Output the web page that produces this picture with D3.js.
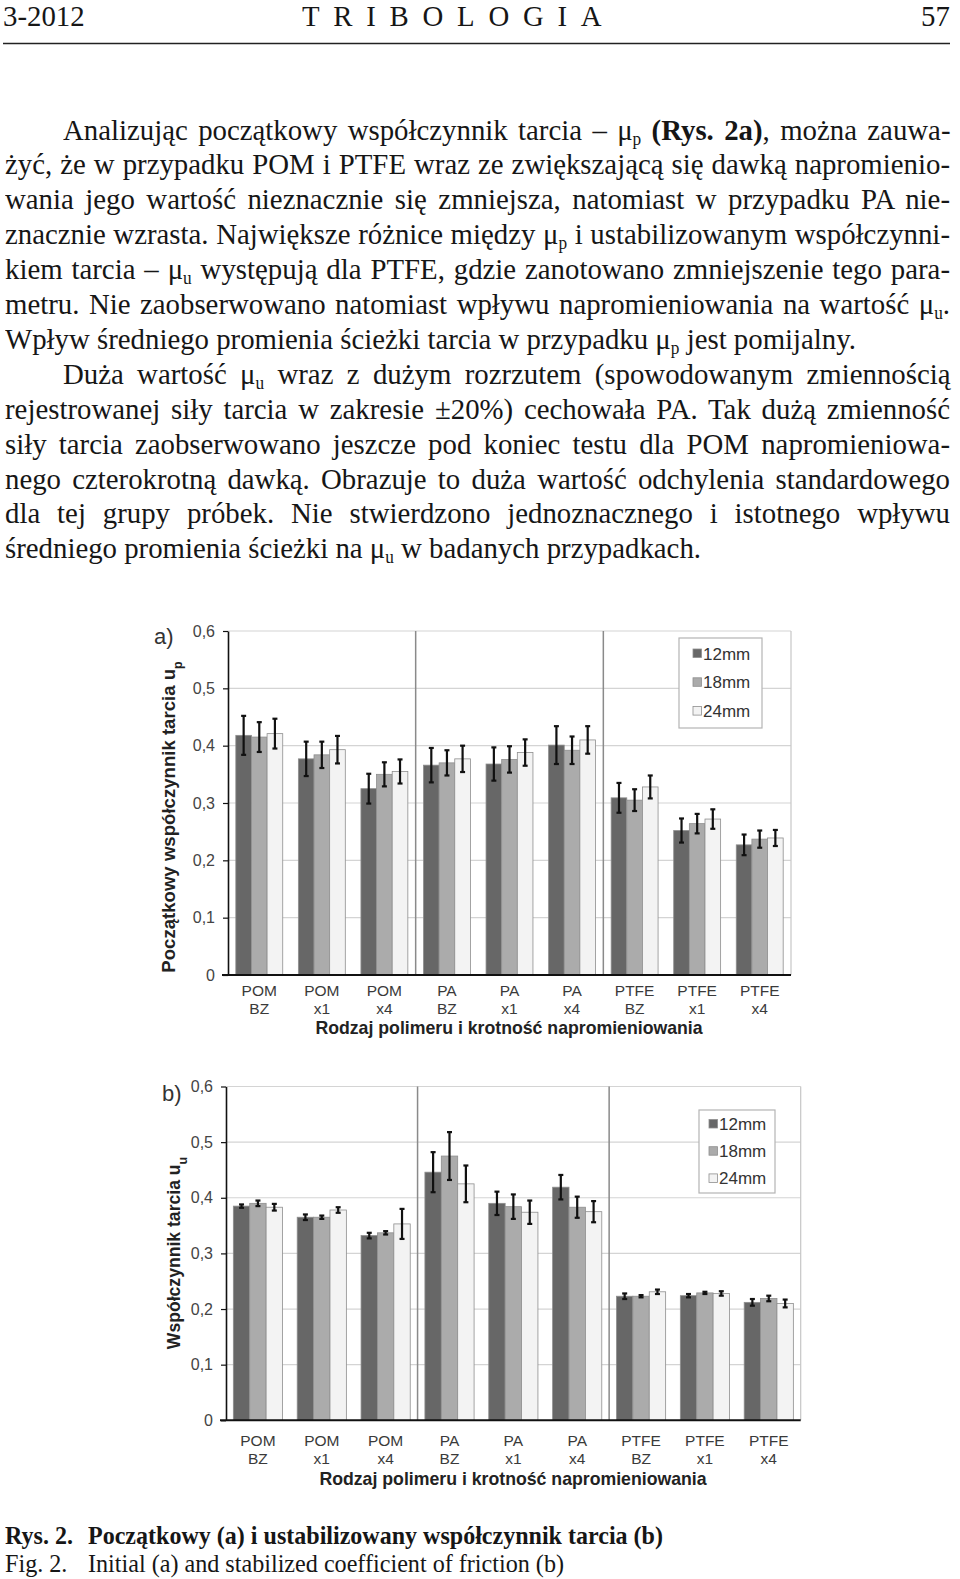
<!DOCTYPE html>
<html>
<head>
<meta charset="utf-8">
<script src="https://cdn.jsdelivr.net/npm/d3@7"></script>
<style>
  body { margin:0; background:#fff; width:960px; height:1579px; position:relative; overflow:hidden;
         font-family:"Liberation Serif","Times New Roman",serif; color:#161616; }
  #page { position:absolute; left:0; top:0; }
  .ln { position:absolute; white-space:nowrap; font-size:30px; line-height:35px; transform-origin:0 0; }
  .j { text-align:justify; text-align-last:justify; }
  sub { font-size:0.6em; vertical-align:-0.28em; line-height:0; }
  .cap { position:absolute; white-space:nowrap; font-size:25px; line-height:28px; transform-origin:0 0; }
</style>
</head>
<body>
<svg id="page" width="960" height="1579"></svg>
<script>

// ---------- data ----------
const polymers = ["POM", "POM", "POM", "PA", "PA", "PA", "PTFE", "PTFE", "PTFE"];
const doses    = ["BZ", "x1", "x4", "BZ", "x1", "x4", "BZ", "x1", "x4"];
const series   = ["12mm", "18mm", "24mm"];
const yTicks   = [0, 0.1, 0.2, 0.3, 0.4, 0.5, 0.6];

// a) initial coefficient of friction (mean, std dev)
const muP12  = [0.418, 0.377, 0.325, 0.366, 0.368, 0.401, 0.309, 0.252, 0.227];
const muP18  = [0.415, 0.384, 0.350, 0.370, 0.376, 0.392, 0.305, 0.264, 0.237];
const muP24  = [0.421, 0.393, 0.355, 0.377, 0.388, 0.410, 0.328, 0.272, 0.239];
const errP12 = [0.034, 0.030, 0.026, 0.030, 0.029, 0.033, 0.026, 0.021, 0.018];
const errP18 = [0.026, 0.023, 0.021, 0.022, 0.023, 0.024, 0.019, 0.017, 0.015];
const errP24 = [0.026, 0.024, 0.021, 0.023, 0.023, 0.024, 0.020, 0.017, 0.014];

// b) stabilized coefficient of friction (mean, std dev)
const muU12  = [0.385, 0.365, 0.332, 0.446, 0.390, 0.419, 0.223, 0.224, 0.212];
const muU18  = [0.390, 0.365, 0.337, 0.475, 0.384, 0.383, 0.223, 0.229, 0.219];
const muU24  = [0.383, 0.378, 0.353, 0.425, 0.374, 0.375, 0.231, 0.228, 0.210];
const errU12 = [0.003, 0.005, 0.005, 0.036, 0.021, 0.022, 0.005, 0.003, 0.006];
const errU18 = [0.005, 0.003, 0.003, 0.043, 0.022, 0.019, 0.002, 0.002, 0.005];
const errU24 = [0.006, 0.005, 0.027, 0.033, 0.021, 0.019, 0.004, 0.004, 0.007];

const barColors = ["#676767", "#ababab", "#f3f3f3"];
const sans = "Liberation Sans, Arial, sans-serif";

const svg = d3.select("#page");

// ---------- header rule ----------
svg.append("line").attr("x1", 3).attr("x2", 950).attr("y1", 43.5).attr("y2", 43.5)
   .attr("stroke", "#222").attr("stroke-width", 1.6);

// ---------- one bar chart ----------
function barChart(cfg) {
  const g = svg.append("g");

  const x0 = d3.scaleBand()
      .domain(d3.range(polymers.length))
      .range([cfg.left, cfg.right])
      .paddingInner(cfg.pad).paddingOuter(cfg.pad / 2);
  const x1 = d3.scaleBand().domain(series).range([0, x0.bandwidth()]);
  const y = d3.scaleLinear().domain([0, 0.6]).range([cfg.bottom, cfg.top]);

  // gridlines + frame
  g.append("g").selectAll("line").data(yTicks.slice(1)).join("line")
    .attr("x1", cfg.left).attr("x2", cfg.right)
    .attr("y1", d => y(d)).attr("y2", d => y(d))
    .attr("stroke", "#d4d4d4").attr("stroke-width", 1.2);
  g.append("line").attr("x1", cfg.right).attr("x2", cfg.right)
    .attr("y1", cfg.top).attr("y2", cfg.bottom)
    .attr("stroke", "#c6c6c6").attr("stroke-width", 1.2);

  // polymer separators
  g.append("g").selectAll("line").data([3, 6]).join("line")
    .attr("x1", i => cfg.left + i * x0.step()).attr("x2", i => cfg.left + i * x0.step())
    .attr("y1", cfg.top).attr("y2", cfg.bottom)
    .attr("stroke", "#8a8a8a").attr("stroke-width", 1.5);

  // bars
  series.forEach((s, k) => {
    g.append("g").selectAll("rect").data(cfg.values[k]).join("rect")
      .attr("x", (d, i) => x0(i) + x1(s))
      .attr("y", d => y(d))
      .attr("width", x1.bandwidth())
      .attr("height", d => y(0) - y(d))
      .attr("fill", barColors[k])
      .attr("stroke", "#8e8e8e").attr("stroke-width", 0.8);
  });

  // error bars
  series.forEach((s, k) => {
    const eg = g.append("g").attr("stroke", "#111").attr("stroke-width", 2.2);
    cfg.values[k].forEach((v, i) => {
      const cx = x0(i) + x1(s) + x1.bandwidth() / 2;
      const e = cfg.errors[k][i];
      eg.append("line").attr("x1", cx).attr("x2", cx).attr("y1", y(v - e)).attr("y2", y(v + e));
      eg.append("line").attr("x1", cx - 2.5).attr("x2", cx + 2.5).attr("y1", y(v - e)).attr("y2", y(v - e));
      eg.append("line").attr("x1", cx - 2.5).attr("x2", cx + 2.5).attr("y1", y(v + e)).attr("y2", y(v + e));
    });
  });

  // y axis
  const ya = g.append("g")
    .attr("transform", `translate(${cfg.left},0)`)
    .call(d3.axisLeft(y).tickValues(yTicks).tickSize(5).tickSizeOuter(0).tickPadding(8)
            .tickFormat(d => d === 0 ? "0" : d3.format(".1f")(d).replace(".", ",")))
    .attr("font-family", sans).attr("font-size", 16);
  ya.select(".domain").attr("stroke", "#111").attr("stroke-width", 1.6);
  ya.selectAll(".tick line").attr("stroke", "#111").attr("stroke-width", 1.2);
  ya.selectAll(".tick text").attr("fill", "#444");

  // x axis line
  g.append("line").attr("x1", cfg.left - 6).attr("x2", cfg.right)
    .attr("y1", cfg.bottom).attr("y2", cfg.bottom)
    .attr("stroke", "#111").attr("stroke-width", 2);

  // category labels
  const cat = g.append("g").attr("font-family", sans).attr("font-size", 15.5)
    .attr("fill", "#3a3a3a").attr("text-anchor", "middle");
  cat.selectAll("text.p").data(polymers).join("text").attr("class", "p")
    .attr("x", (d, i) => x0(i) + x0.bandwidth() / 2).attr("y", cfg.catY).text(d => d);
  cat.selectAll("text.d").data(doses).join("text").attr("class", "d")
    .attr("x", (d, i) => x0(i) + x0.bandwidth() / 2).attr("y", cfg.catY + 18).text(d => d);

  // x title
  g.append("text").attr("x", cfg.xTitleX).attr("y", cfg.xTitleY)
    .attr("text-anchor", "middle").attr("font-family", sans).attr("font-size", 17.7)
    .attr("font-weight", "bold").attr("fill", "#222")
    .text("Rodzaj polimeru i krotność napromieniowania");

  // y title
  const yt = g.append("text")
    .attr("transform", `translate(${cfg.yTitleX},${cfg.yTitleY}) rotate(-90)`)
    .attr("text-anchor", "middle").attr("font-family", sans).attr("font-size", cfg.yTitleSize)
    .attr("font-weight", "bold").attr("fill", "#222");
  yt.append("tspan").text(cfg.yTitle);
  yt.append("tspan").attr("baseline-shift", "sub").attr("font-size", 12.5).text(cfg.ySub);

  // panel tag
  g.append("text").attr("x", cfg.tagX).attr("y", cfg.tagY)
    .attr("font-family", sans).attr("font-size", 22).attr("fill", "#333").text(cfg.tag);

  // legend
  const L = cfg.legend;
  const lg = g.append("g");
  lg.append("rect").attr("x", L.x).attr("y", L.y).attr("width", L.w).attr("height", L.h)
    .attr("fill", "#fff").attr("stroke", "#b4b4b4").attr("stroke-width", 1.2);
  series.forEach((s, k) => {
    const ry = L.row0 + k * L.step;
    lg.append("rect").attr("x", L.x + L.sq).attr("y", ry - 4.5).attr("width", 8.5).attr("height", 8.5)
      .attr("fill", barColors[k]).attr("stroke", "#8e8e8e").attr("stroke-width", 0.8);
    lg.append("text").attr("x", L.x + L.sq + 10).attr("y", ry + 6)
      .attr("font-family", sans).attr("font-size", 17).attr("fill", "#333").text(s);
  });
}

barChart({
  left: 228, right: 791, top: 631, bottom: 975, pad: 0.25,
  values: [muP12, muP18, muP24], errors: [errP12, errP18, errP24],
  catY: 996, xTitleX: 509, xTitleY: 1034,
  yTitle: "Początkowy współczynnik tarcia u", ySub: "p", yTitleX: 175, yTitleY: 817, yTitleSize: 18.6,
  tag: "a)", tagX: 154, tagY: 644,
  legend: { x: 679, y: 638, w: 83, h: 90, row0: 653.5, step: 28.8, sq: 14 }
});

barChart({
  left: 226, right: 800.7, top: 1086.5, bottom: 1420.3, pad: 0.23,
  values: [muU12, muU18, muU24], errors: [errU12, errU18, errU24],
  catY: 1446, xTitleX: 513, xTitleY: 1485,
  yTitle: "Współczynnik tarcia u", ySub: "u", yTitleX: 180, yTitleY: 1253, yTitleSize: 17.6,
  tag: "b)", tagX: 162, tagY: 1101,
  legend: { x: 699, y: 1110, w: 76, h: 83, row0: 1124, step: 27.2, sq: 10 }
});

// ---------- running text ----------
const body = d3.select("body");

function addDiv(cls, html, left, top) {
  return body.append("div").attr("class", cls).html(html)
    .style("left", left + "px").style("top", top + "px");
}

// header
const h1 = addDiv("ln", "3-2012", 3, -2);
const h2 = addDiv("ln", "TRIBOLOGIA", 302, -2).style("letter-spacing", "14.3px");
const h3 = addDiv("ln", "57", 0, -2);

const bodyLines = [
  ["Analizując początkowy współczynnik tarcia – μ<sub>p</sub> <b>(Rys. 2a)</b>, można zauwa-", true, true],
  ["żyć, że w przypadku POM i PTFE wraz ze zwiększającą się dawką napromienio-", true, false],
  ["wania jego wartość nieznacznie się zmniejsza, natomiast w przypadku PA nie-", true, false],
  ["znacznie wzrasta. Największe różnice między μ<sub>p</sub> i ustabilizowanym współczynni-", true, false],
  ["kiem tarcia – μ<sub>u</sub> występują dla PTFE, gdzie zanotowano zmniejszenie tego para-", true, false],
  ["metru. Nie zaobserwowano natomiast wpływu napromieniowania na wartość μ<sub>u</sub>.", true, false],
  ["Wpływ średniego promienia ścieżki tarcia w przypadku μ<sub>p</sub> jest pomijalny.", false, false],
  ["Duża wartość μ<sub>u</sub> wraz z dużym rozrzutem (spowodowanym zmiennością", true, true],
  ["rejestrowanej siły tarcia w zakresie ±20%) cechowała PA. Tak dużą zmienność", true, false],
  ["siły tarcia zaobserwowano jeszcze pod koniec testu dla POM napromieniowa-", true, false],
  ["nego czterokrotną dawką. Obrazuje to duża wartość odchylenia standardowego", true, false],
  ["dla tej grupy próbek. Nie stwierdzono jednoznacznego i istotnego wpływu", true, false],
  ["średniego promienia ścieżki na μ<sub>u</sub> w badanych przypadkach.", false, false]
];

const divs = bodyLines.map((l, i) =>
  addDiv("ln" + (l[1] ? " j" : ""), l[0], 5, 111.5 + i * 34.9));

// horizontal squeeze so that the unjustified line ends where the reference ends
const s = 851 / divs[6].node().getBoundingClientRect().width;
divs.forEach((d, i) => {
  const ind = bodyLines[i][2] ? 57.5 : 0;
  d.style("left", (5 + ind) + "px")
   .style("transform", `scaleX(${s})`);
  if (bodyLines[i][1]) d.style("width", ((945 - ind) / s) + "px");
});
[h1, h2].forEach(d => d.style("transform", `scaleX(${s})`));
const w57 = h3.node().getBoundingClientRect().width;
h3.style("left", (950 - w57 * s) + "px").style("transform", `scaleX(${s})`);

// captions
const c1a = addDiv("cap", "<b>Rys. 2.</b>", 5, 1522);
const c1b = addDiv("cap", "<b>Początkowy (a) i ustabilizowany współczynnik tarcia (b)</b>", 88, 1522);
const c2a = addDiv("cap", "Fig. 2.", 5, 1550);
const c2b = addDiv("cap", "Initial (a) and stabilized coefficient of friction (b)", 88, 1550);
const s1 = 575 / c1b.node().getBoundingClientRect().width;
const s2 = 476 / c2b.node().getBoundingClientRect().width;
[c1a, c1b].forEach(d => d.style("transform", `scaleX(${s1})`));
[c2a, c2b].forEach(d => d.style("transform", `scaleX(${s2})`));

</script>
</body>
</html>
